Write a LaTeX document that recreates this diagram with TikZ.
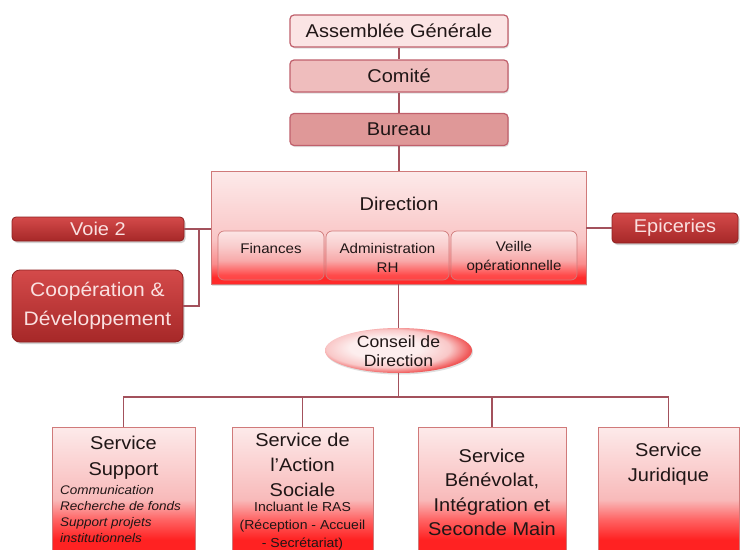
\documentclass[tikz,border=0pt]{standalone}
\usepackage{fontspec}
\setmainfont[FakeStretch=1.08]{Liberation Sans}
\usetikzlibrary{shadows,shapes.geometric}
\newcommand\myfs[2]{\fontsize{#1}{#2}\selectfont}
\definecolor{conncol}{HTML}{A3515C}
\definecolor{tbord}{HTML}{C0606C}
\definecolor{agfill}{HTML}{FBE4E4}
\definecolor{cofill}{HTML}{EFBDBD}
\definecolor{bufill}{HTML}{DF9898}
\definecolor{txt}{HTML}{201616}
\definecolor{dkT}{HTML}{D44A4A}
\definecolor{dkB}{HTML}{A62828}
\definecolor{dkbord}{HTML}{8E2020}
\definecolor{dkTxt}{HTML}{FAE0E0}
\definecolor{pbord}{HTML}{D07A7A}
\definecolor{svR}{HTML}{FF2222}
\definecolor{svO}{HTML}{FF6464}
\definecolor{svP}{HTML}{F8BABA}
\definecolor{svT}{HTML}{FDEAEA}
\definecolor{drR}{HTML}{FF2A2A}
\definecolor{drO}{HTML}{FA8C8C}
\definecolor{drP}{HTML}{F9C6C6}
\definecolor{drT}{HTML}{FDEAEA}
\definecolor{sbR}{HTML}{FF2020}
\definecolor{sbO}{HTML}{FF4A4A}
\definecolor{sbP}{HTML}{F8AAAA}
\definecolor{sbQ}{HTML}{F9CDCD}
\definecolor{sbT}{HTML}{FCE5E5}
\definecolor{elIn}{HTML}{FDEEEE}
\definecolor{elMid}{HTML}{F9C8C8}
\definecolor{elOut}{HTML}{F05858}
\pgfdeclareverticalshading{svcshade}{100bp}{color(0bp)=(svR); color(30bp)=(svR); color(38bp)=(svO); color(46bp)=(svP); color(75bp)=(svT); color(100bp)=(svT)}
\pgfdeclareverticalshading{dirshade}{100bp}{color(0bp)=(drR); color(28bp)=(drR); color(34bp)=(drO); color(45bp)=(drP); color(75bp)=(drT); color(100bp)=(drT)}
\pgfdeclareverticalshading{subshade}{100bp}{color(0bp)=(sbR); color(30bp)=(sbO); color(45bp)=(sbP); color(60bp)=(sbQ); color(75bp)=(sbT); color(100bp)=(sbT)}
\pgfdeclareradialshading{elshade}{\pgfpoint{-6bp}{4bp}}{color(0bp)=(elIn); color(12bp)=(elIn); color(21bp)=(elMid); color(27bp)=(elOut); color(50bp)=(elOut)}
\begin{document}
\begin{tikzpicture}[x=1pt,y=-1pt,
  conn/.style={draw=conncol, line width=1.5pt},
  softshadow/.style={drop shadow={shadow xshift=1pt, shadow yshift=-1.5pt, opacity=0.25}},
  topbox/.style={draw=tbord, line width=1.2pt, rounded corners=4pt, minimum width=218pt,
    minimum height=32pt, inner sep=0pt, font=\myfs{18.5}{22}, text=txt, softshadow},
  darkbox/.style={draw=dkbord, line width=0.8pt, top color=dkT, bottom color=dkB, text=dkTxt,
    inner sep=0pt, align=center, drop shadow={shadow xshift=1.5pt, shadow yshift=-2pt, opacity=0.35}},
  subbox/.style={draw=pbord, line width=0.7pt, rounded corners=6pt, shade, shading=subshade,
    minimum height=49pt, inner sep=0pt},
  svcbox/.style={draw=pbord, line width=0.8pt, shade, shading=svcshade, minimum height=125pt,
    inner sep=0pt, softshadow},
  lbl/.style={text=txt, align=center, inner sep=0pt}
]
\clip (0,0) rectangle (747,549);
\fill[white] (0,0) rectangle (747,549);

% top chain
\node (ag) [topbox, fill=agfill] at (399,31) {Assemblée Générale};
\node (co) [topbox, fill=cofill] at (399,76) {Comité};
\node (bu) [topbox, fill=bufill] at (399,129.5) {Bureau};

% direction
\node (dir) [draw=pbord, line width=0.8pt, shade, shading=dirshade, minimum width=375pt,
  minimum height=113pt, inner sep=0pt, softshadow] at (398.5,227.5) {};
\node (dirt) [lbl, font=\myfs{18.5}{22}] at (399,204) {Direction};
\node (fin) [subbox, minimum width=106pt] at (271,255.5) {};
\node (adm) [subbox, minimum width=123pt] at (387.5,255.5) {};
\node (vei) [subbox, minimum width=126pt] at (514,255.5) {};
\node (finT) [lbl, font=\myfs{14}{19}] at (271,248) {Finances};
\node (admT) [lbl, font=\myfs{14}{19}] at (387.5,258) {Administration\\RH};
\node (veiT) [lbl, font=\myfs{14}{19}] at (514,257.5) {Veille\\opérationnelle};

% side boxes
\node (voie) [darkbox, rounded corners=4pt, minimum width=172pt, minimum height=24pt,
  font=\myfs{18.5}{22}] at (98,229) {Voie 2};
\node (coop) [darkbox, rounded corners=8pt, minimum width=171pt, minimum height=72pt,
  font=\myfs{19.5}{28.5}] at (97.5,306) {Coopération \&\\Développement};
\node (epi) [darkbox, rounded corners=4pt, minimum width=126pt, minimum height=30pt,
  font=\myfs{18.5}{22}] at (675,228) {Epiceries};

% conseil
\node (cd) [ellipse, draw=none, shade, shading=elshade, minimum width=147pt,
  minimum height=45pt, inner sep=0pt, softshadow] at (398.5,350.5) {};
\node (cdT) [lbl, font=\myfs{16.3}{19}] at (398.5,351.5) {Conseil de\\Direction};

% services
\node (ss) [svcbox, minimum width=143pt] at (123.5,489.5) {};
\node (as) [svcbox, minimum width=141pt] at (302.5,489.5) {};
\node (ben) [svcbox, minimum width=148pt] at (492,489.5) {};
\node (jur) [svcbox, minimum width=141pt] at (668.5,489.5) {};
\node (ssT) [lbl, font=\myfs{18.5}{26}] at (123.5,458) {Service\\Support};
\node (ssS) [lbl, align=left, anchor=west, font=\myfs{12.5}{16}\itshape] at (60,514.5)
  {Communication\\Recherche de fonds\\Support projets\\institutionnels};
\node (asT) [lbl, font=\myfs{18.5}{25}] at (302.5,465) {Service de\\l’Action\\Sociale};
\node (asS) [lbl, font=\myfs{13}{18}] at (302.5,526) {Incluant le RAS\\(Réception - Accueil\\- Secrétariat)};
\node (benT) [lbl, font=\myfs{18.5}{24.5}] at (492,492.5) {Service\\Bénévolat,\\Intégration et\\Seconde Main};
\node (jurT) [lbl, font=\myfs{18.5}{25}] at (668.5,464.5) {Service\\Juridique};

% connectors
\coordinate (lj) at (199,229);
\coordinate (bus) at (398.5,397);
\draw[conn] (ag.south) -- (co.north);
\draw[conn] (co.south) -- (bu.north);
\draw[conn] (bu.south) -- (bu.south |- dir.north);
\draw[conn] (voie.east) -- (voie.east -| dir.west);
\draw[conn] (coop.east) -| (lj);
\draw[conn] (dir.east |- epi.west) -- (epi.west);
\draw[conn] (dir.south) -- (cd.north);
\draw[conn] (cd.south) -- (bus);
\draw[conn] (ss.north) |- (bus) -| (jur.north);
\draw[conn] (as.north) -- (as.north |- bus);
\draw[conn] (ben.north) -- (ben.north |- bus);
\end{tikzpicture}
\end{document}
